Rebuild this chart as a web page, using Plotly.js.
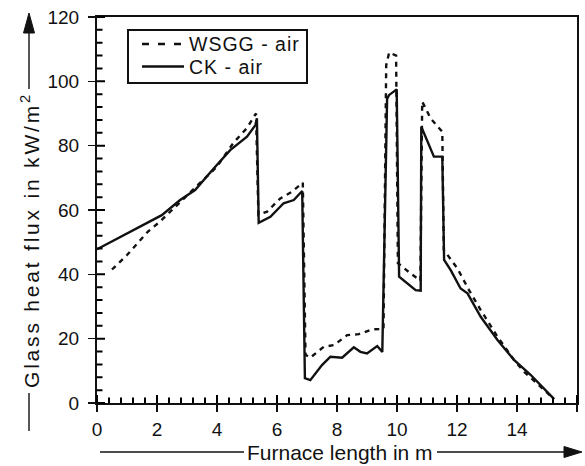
<!DOCTYPE html>
<html>
<head>
<meta charset="utf-8">
<script src="https://cdn.plot.ly/plotly-3.0.1.min.js"></script>
<style>html,body{margin:0;padding:0;background:#fff}#chart{width:585px;height:466px}</style>
</head>
<body>
<div id="chart"></div>
<script>
// WSGG - air (dashed)
const wsggX = [0.5, 1.0, 1.7, 2.1, 2.5, 3.0, 4.0, 4.55, 5.0, 5.3, 5.38, 5.67, 6.11, 6.5, 6.86, 6.95, 7.11, 7.56, 7.9, 8.34, 8.73, 9.17, 9.55, 9.64, 9.74, 9.97, 10.03, 10.45, 10.78, 10.84, 11.12, 11.51, 11.56, 12.01, 12.4, 12.79, 13.35, 13.9, 14.24, 15.2];
const wsggY = [41.5, 46.0, 53.3, 56.4, 60.0, 64.5, 73.5, 80.9, 85.5, 90.0, 58.5, 59.5, 63.6, 65.7, 68.5, 15.0, 14.1, 17.5, 18.0, 21.1, 21.4, 22.9, 23.0, 105.0, 109.0, 108.0, 43.5, 40.3, 38.0, 93.7, 88.5, 84.3, 47.6, 41.9, 35.1, 28.9, 20.6, 13.4, 9.7, 1.5];
// CK - air (solid)
const ckX = [0.0, 1.05, 2.16, 2.77, 3.27, 3.89, 4.44, 5.0, 5.28, 5.33, 5.39, 5.78, 6.22, 6.56, 6.84, 6.93, 7.11, 7.5, 7.78, 8.17, 8.56, 8.78, 9.0, 9.34, 9.51, 9.67, 9.73, 9.99, 10.07, 10.62, 10.79, 10.81, 11.23, 11.51, 11.57, 11.79, 12.12, 12.35, 12.79, 13.35, 13.9, 14.46, 15.24];
const ckY = [47.8, 52.9, 58.4, 63.1, 66.2, 72.9, 78.6, 82.8, 86.4, 88.5, 56.0, 57.9, 62.1, 63.1, 65.9, 7.7, 7.1, 11.8, 14.4, 14.1, 17.3, 15.9, 15.4, 17.7, 15.9, 94.5, 95.7, 97.5, 39.3, 35.1, 34.9, 85.9, 76.6, 76.6, 44.5, 41.3, 35.6, 34.1, 26.8, 19.6, 13.4, 8.7, 1.2];

const seriesNames = ['WSGG - air', 'CK - air'];
const xTickVals = [0, 2, 4, 6, 8, 10, 12, 14, 16];
const yTickVals = [0, 20, 40, 60, 80, 100, 120];
const xTitle = 'Furnace length in m';
const yTitle = 'Glass heat flux in kW/m<sup>2</sup>';

const FONT = 'Liberation Sans, Arial, Helvetica, sans-serif';
const INK = '#111';

// pixel -> paper helpers (plot area 97..577 x, 17..403 y)
const PL = 97, PR = 577, PT = 17, PB = 403;
const px = v => (v - PL) / (PR - PL);
const py = v => (PB - v) / (PB - PT);
const X_MAX = 16, Y_MAX = 120;

const spaced = (t, s) => '<span style="letter-spacing:' + s + 'px">' + t + '</span>';

const traces = [
  {x: wsggX, y: wsggY, name: seriesNames[0], mode: 'lines', type: 'scatter', showlegend: false,
   line: {color: INK, width: 2.4, dash: '5px,5px'}},
  {x: ckX, y: ckY, name: seriesNames[1], mode: 'lines', type: 'scatter', showlegend: false,
   line: {color: INK, width: 2.4}}
];

// inward tick marks as one paper-referenced path (major 8px, 4 minor per interval 5.5px)
let tickPath = '';
const hx = 1 / (PB - PT), hy = 1 / (PR - PL);
for (let i = 0; i < xTickVals.length; i++) {
  const v = xTickVals[i] / X_MAX;
  tickPath += 'M' + v + ',0 L' + v + ',' + (8 * hx) + ' ';
  if (i < xTickVals.length - 1) {
    const step = (xTickVals[i + 1] - xTickVals[i]) / 5 / X_MAX;
    for (let k = 1; k < 5; k++) {
      const m = v + k * step;
      tickPath += 'M' + m + ',0 L' + m + ',' + (5.5 * hx) + ' ';
    }
  }
}
for (let i = 0; i < yTickVals.length; i++) {
  const v = yTickVals[i] / Y_MAX;
  tickPath += 'M0,' + v + ' L' + (8 * hy) + ',' + v + ' ';
  if (i < yTickVals.length - 1) {
    const step = (yTickVals[i + 1] - yTickVals[i]) / 5 / Y_MAX;
    for (let k = 1; k < 5; k++) {
      const m = v + k * step;
      tickPath += 'M0,' + m + ' L' + (5.5 * hy) + ',' + m + ' ';
    }
  }
}

const layout = {
  width: 585, height: 466,
  margin: {l: 97, r: 8, t: 17, b: 63, pad: 0},
  paper_bgcolor: '#fff', plot_bgcolor: '#fff',
  font: {family: FONT, color: INK},
  showlegend: false,
  xaxis: {
    range: [0, X_MAX], tickmode: 'array', tickvals: xTickVals, ticktext: xTickVals.map(String),
    ticks: 'outside', ticklen: 7, tickwidth: 1.5, tickcolor: INK, ticklabelstandoff: 1,
    showgrid: false, zeroline: false, showline: true, mirror: true, linecolor: INK, linewidth: 2,
    tickfont: {family: FONT, size: 19, color: INK}
  },
  yaxis: {
    range: [0, Y_MAX], tickmode: 'array', tickvals: yTickVals, ticktext: yTickVals.map(String),
    ticks: 'outside', ticklen: 7, tickwidth: 1.5, tickcolor: INK, ticklabelstandoff: 5,
    showgrid: false, zeroline: false, showline: true, mirror: true, linecolor: INK, linewidth: 2,
    tickfont: {family: FONT, size: 19, color: INK}
  },
  annotations: [
    {text: spaced(yTitle, 2.8), xref: 'paper', yref: 'paper', x: px(30), y: py(240), xanchor: 'center', yanchor: 'middle',
     textangle: -90, showarrow: false, font: {family: FONT, size: 21, color: INK}},
    {text: xTitle, xref: 'paper', yref: 'paper', x: px(340), y: py(452), xanchor: 'center', yanchor: 'middle',
     showarrow: false, font: {family: FONT, size: 21, color: INK}},
    {text: spaced(seriesNames[0], 1), xref: 'paper', yref: 'paper', x: px(187), y: py(44), xanchor: 'left', yanchor: 'middle',
     showarrow: false, font: {family: FONT, size: 19.5, color: INK}},
    {text: spaced(seriesNames[1], 1), xref: 'paper', yref: 'paper', x: px(187), y: py(67), xanchor: 'left', yanchor: 'middle',
     showarrow: false, font: {family: FONT, size: 19.5, color: INK}}
  ],
  shapes: [
    {type: 'path', layer: 'above', xref: 'paper', yref: 'paper', path: tickPath, line: {color: '#000', width: 2}},
    // legend box and samples
    {type: 'rect', xref: 'paper', yref: 'paper', x0: px(128), x1: px(307), y0: py(30), y1: py(83),
     fillcolor: '#fff', line: {color: INK, width: 2}},
    {type: 'line', xref: 'paper', yref: 'paper', x0: px(142), x1: px(183), y0: py(44), y1: py(44),
     line: {color: INK, width: 2.4, dash: '7px,9px'}},
    {type: 'line', xref: 'paper', yref: 'paper', x0: px(142), x1: px(184), y0: py(66.5), y1: py(66.5),
     line: {color: INK, width: 2.4}},
    // y title rule with arrow
    {type: 'line', xref: 'paper', yref: 'paper', x0: px(29), x1: px(29), y0: py(393), y1: py(431),
     line: {color: INK, width: 1.4}},
    {type: 'line', xref: 'paper', yref: 'paper', x0: px(29), x1: px(29), y0: py(89), y1: py(30),
     line: {color: INK, width: 1.4}},
    {type: 'path', xref: 'paper', yref: 'paper', fillcolor: INK, line: {color: INK, width: 1},
     path: 'M' + px(29) + ',' + py(13) + ' L' + px(23.5) + ',' + py(33) + ' L' + px(34.5) + ',' + py(33) + ' Z'},
    // x title rule with arrow
    {type: 'line', xref: 'paper', yref: 'paper', x0: px(100), x1: px(244), y0: py(452), y1: py(452),
     line: {color: INK, width: 1.4}},
    {type: 'line', xref: 'paper', yref: 'paper', x0: px(437), x1: px(566), y0: py(452), y1: py(452),
     line: {color: INK, width: 1.4}},
    {type: 'path', xref: 'paper', yref: 'paper', fillcolor: INK, line: {color: INK, width: 1},
     path: 'M' + px(582) + ',' + py(452) + ' L' + px(564) + ',' + py(446.5) + ' L' + px(564) + ',' + py(457.5) + ' Z'}
  ]
};

Plotly.newPlot('chart', traces, layout, {displayModeBar: false, staticPlot: true});
</script>
</body>
</html>
